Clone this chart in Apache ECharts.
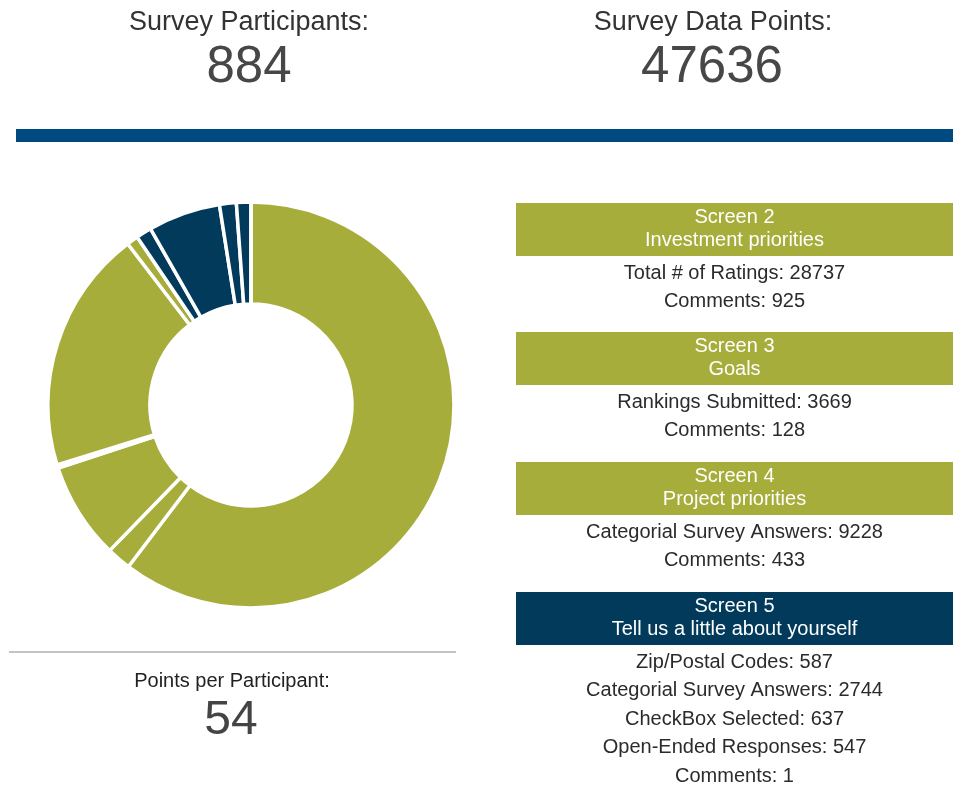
<!DOCTYPE html>
<html>
<head>
<meta charset="utf-8">
<script src="https://cdn.jsdelivr.net/npm/echarts@6/dist/echarts.min.js"></script>
<style>
  html, body { margin: 0; padding: 0; background: #fff; }
  #chart { width: 953px; height: 786px; }
</style>
</head>
<body>
<div id="chart"></div>
<script>
// survey numbers
let participants = 884;
let screens = ['Screen 2', 'Screen 3', 'Screen 4', 'Screen 5'];
let screenTitles = ['Investment priorities', 'Goals', 'Project priorities', 'Tell us a little about yourself'];
let itemLabels = [
  ['Total # of Ratings', 'Comments'],
  ['Rankings Submitted', 'Comments'],
  ['Categorial Survey Answers', 'Comments'],
  ['Zip/Postal Codes', 'Categorial Survey Answers', 'CheckBox Selected', 'Open-Ended Responses', 'Comments']
];
let itemValues = [
  [28737, 925],
  [3669, 128],
  [9228, 433],
  [587, 2744, 637, 547, 1]
];
let screenColors = ['#a6ad3a', '#a6ad3a', '#a6ad3a', '#013a5b'];

let font = '"Liberation Sans", Arial, sans-serif';
let totalPoints = 0;
let pieData = [];
for (let i = 0; i < screens.length; i++) {
  for (let j = 0; j < itemValues[i].length; j++) {
    totalPoints += itemValues[i][j];
    pieData.push({
      name: screens[i] + ' - ' + itemLabels[i][j],
      value: itemValues[i][j],
      itemStyle: { color: screenColors[i] }
    });
  }
}
let perParticipant = Math.round(totalPoints / participants);

function texto(x, y, txt, size, color) {
  return {
    type: 'text',
    silent: true,
    style: {
      x: x, y: y, text: txt,
      fontFamily: font, fontSize: size,
      fill: color, textAlign: 'center', verticalAlign: 'middle'
    }
  };
}

let graficos = [
  texto(249, 23, 'Survey Participants:', 27, '#333'),
  texto(249, 68, String(participants), 51, '#474747'),
  texto(713, 23, 'Survey Data Points:', 27, '#333'),
  texto(712, 68, String(totalPoints), 51, '#474747'),
  { type: 'rect', silent: true, shape: { x: 16, y: 129, width: 937, height: 13 }, style: { fill: '#004a82' } },
  { type: 'line', silent: true, shape: { x1: 9, y1: 652, x2: 456, y2: 652 }, style: { stroke: '#c4c4c4', lineWidth: 2 } },
  texto(232, 681, 'Points per Participant:', 20, '#222'),
  texto(231, 721, String(perParticipant), 48, '#444')
];

let bandTops = [203, 332, 462, 592];
let panelX = 516;
let panelW = 953 - panelX;
let centroX = panelX + panelW / 2;
for (let i = 0; i < screens.length; i++) {
  let top = bandTops[i];
  graficos.push({ type: 'rect', silent: true, shape: { x: panelX, y: top, width: panelW, height: 53 }, style: { fill: screenColors[i] } });
  graficos.push(texto(centroX, top + 14, screens[i], 20, '#fff'));
  graficos.push(texto(centroX, top + 37, screenTitles[i], 20, '#fff'));
  for (let j = 0; j < itemLabels[i].length; j++) {
    graficos.push(texto(centroX, top + 70 + j * 28.5, itemLabels[i][j] + ': ' + itemValues[i][j], 20, '#2b2b2b'));
  }
}

let myChart = echarts.init(document.getElementById('chart'), null, { renderer: 'canvas' });

let option = {
  backgroundColor: '#fff',
  animation: false,
  graphic: graficos,
  series: [
    {
      type: 'pie',
      center: [251, 405],
      radius: [101, 203],
      startAngle: 90,
      clockwise: true,
      minAngle: 0,
      label: { show: false },
      labelLine: { show: false },
      emphasis: { disabled: true },
      itemStyle: { borderColor: '#fff', borderWidth: 3.5 },
      data: pieData
    }
  ]
};

myChart.setOption(option);
</script>
</body>
</html>
